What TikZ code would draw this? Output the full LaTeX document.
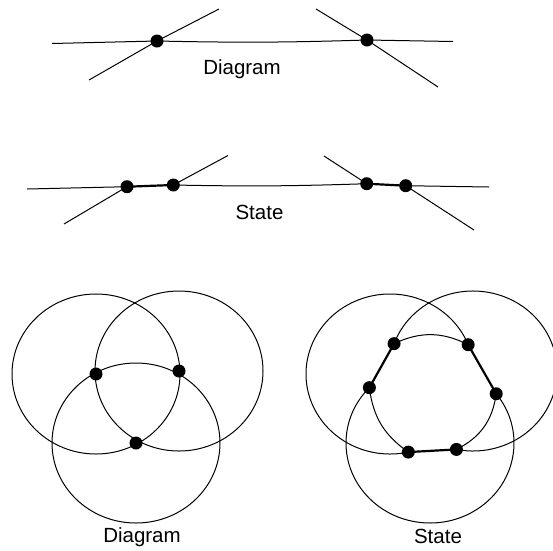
\documentclass[tikz,border=0pt]{standalone}
\usepackage{fontspec}
\setmainfont{Liberation Sans}
\usetikzlibrary{positioning, calc}

\begin{document}
\begin{tikzpicture}[
        x=1pt, y=-1pt,
        dot/.style={circle, fill=black, inner sep=0pt, minimum size=13pt},
        strand/.style={line width=1pt},
        bond/.style={line width=2.2pt},
        caption/.style={font=\fontsize{20.5}{24}\selectfont, anchor=base, inner sep=0pt}
    ]
    \useasboundingbox (0,0) rectangle (553,550);

    \coordinate (t1w) at (52,43.5);
    \coordinate (t1e) at (453,41.5);
    \coordinate (t1sw) at (89,80);
    \coordinate (t1ne) at (219,9);
    \coordinate (t1nw) at (316,9);
    \coordinate (t1se) at (438,87);
    \node[dot] (t1a) at (157,41) {};
    \node[dot] (t1b) at (367,40) {};
    \node[caption] (cap1) at (242,74) {Diagram};

    \draw[strand] (t1w) -- (t1a.center) to[bend right=1.5] (t1b.center) -- (t1e);
    \draw[strand] (t1sw) -- (t1a.center) -- (t1ne);
    \draw[strand] (t1nw) -- (t1b.center) -- (t1se);

    \coordinate (t2w) at (27,189);
    \coordinate (t2e) at (489,187);
    \coordinate (t2sw) at (64,224);
    \coordinate (t2ne) at (228,155.5);
    \coordinate (t2nw) at (324,156);
    \coordinate (t2se) at (474,230);
    \node[dot] (t2a) at (127,186.7) {};
    \node[dot] (t2b) at (173.3,185) {};
    \node[dot] (t2c) at (366.7,183.7) {};
    \node[dot] (t2d) at (405.7,185.7) {};
    \node[caption] (cap2) at (259.5,219) {State};

    \draw[strand] (t2w) -- (t2a.center);
    \draw[bond] (t2a.center) -- (t2b.center);
    \draw[strand] (t2b.center) to[bend right=1.5] (t2c.center);
    \draw[bond] (t2c.center) -- (t2d.center);
    \draw[strand] (t2d.center) -- (t2e);
    \draw[strand] (t2sw) -- (t2a.center);
    \draw[strand] (t2b.center) -- (t2ne);
    \draw[strand] (t2nw) -- (t2c.center);
    \draw[strand] (t2d.center) -- (t2se);

    \node[dot] (dA) at (96,374) {};
    \node[dot] (dB) at (179,371) {};
    \node[dot] (dC) at (136,443) {};
    \node[caption] (cap3) at (142,542.5) {Diagram};

    \foreach \c in {dA, dB, dC}
        \draw[strand] (\c.center) ellipse [x radius=84, y radius=80];

    \coordinate (sA) at (390,374);
    \coordinate (sB) at (473,371);
    \coordinate (sC) at (430,443);
    \node[dot] (s1) at ($(sB)+(200:84 and 80)$) {};
    \node[dot] (s2) at ($(sA)+(338.5:84 and 80)$) {};
    \node[dot] (s3) at ($(sC)+(322:84 and 80)$) {};
    \node[dot] (s4) at ($(sB)+(101.4:84 and 80)$) {};
    \node[dot] (s5) at ($(sA)+(77.4:84 and 80)$) {};
    \node[dot] (s6) at ($(sC)+(223.8:84 and 80)$) {};
    \node[caption] (cap4) at (438,543) {State};

    \draw[strand] (s1.center) arc [start angle=200, end angle=461.4, x radius=84, y radius=80];
    \draw[strand] (s2.center) arc [start angle=338.5, end angle=77.4, x radius=84, y radius=80];
    \draw[strand] (s3.center) arc [start angle=-38, end angle=223.8, x radius=84, y radius=80];
    \draw[strand] (s1.center) to[bend left=26] (s2.center);
    \draw[strand] (s3.center) to[bend left=28] (s4.center);
    \draw[strand] (s5.center) to[bend left=24] (s6.center);
    \draw[bond] (s2.center) -- (s3.center);
    \draw[bond] (s4.center) -- (s5.center);
    \draw[bond] (s6.center) -- (s1.center);

\end{tikzpicture}
\end{document}
